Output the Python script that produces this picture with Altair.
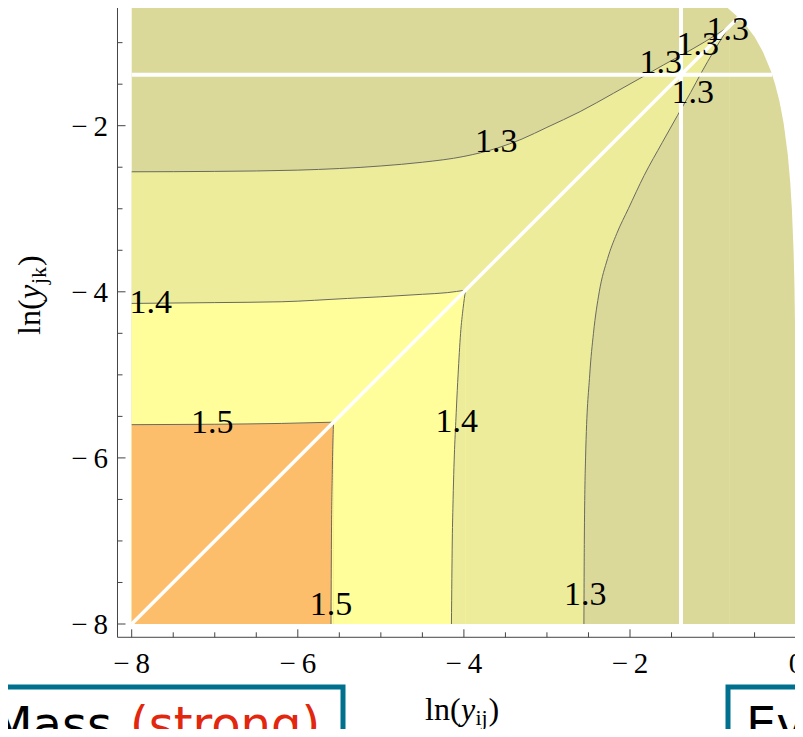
import altair as alt
import pandas as pd

# ---------------- data ----------------
# boundary of the physical region (top-right edge)
bnd_x = [-8.0, -1.0, -0.85, -0.7, -0.6, -0.5, -0.4, -0.3, -0.25, -0.2, -0.15, -0.1, -0.07, -0.05, -0.03, -0.02, -0.01, -0.004, 0.0]
bnd_y = [-0.3, -0.46, -0.56, -0.69, -0.80, -0.93, -1.11, -1.35, -1.51, -1.71, -1.97, -2.35, -2.69, -3.02, -3.52, -3.92, -4.61, -5.5, -8.0]

# contour 1.3 (upper branch, and right branch)
c13_h_x = [-8, -7, -6, -5, -4.5, -4.0, -3.6, -3.3, -3.0, -2.6, -2.2, -1.88, -1.6, -1.36, -1.1, -0.8]
c13_h_y = [-2.555, -2.55, -2.535, -2.485, -2.44, -2.37, -2.27, -2.16, -2.02, -1.83, -1.61, -1.43, -1.27, -1.14, -0.99, -0.80]
c13_v_x = [-2.555, -2.55, -2.535, -2.485, -2.44, -2.37, -2.27, -2.16, -2.02, -1.83, -1.61, -1.43, -1.27, -1.14, -0.99, -0.80]
c13_v_y = [-8, -7, -6, -5, -4.5, -4.0, -3.6, -3.3, -3.0, -2.6, -2.2, -1.88, -1.6, -1.36, -1.1, -0.8]

# contour 1.4
c14_h_x = [-8, -7, -6.2, -5.4, -5.0, -4.5, -4.2, -3.98]
c14_h_y = [-4.14, -4.13, -4.12, -4.08, -4.06, -4.03, -4.01, -3.98]
c14_v_x = [-4.15, -4.14, -4.13, -4.09, -4.07, -4.04, -4.01, -3.98]
c14_v_y = [-8, -7, -6.5, -5.4, -5.0, -4.5, -4.2, -3.98]

# contour 1.5
c15_h_x = [-8, -7, -6.2, -5.57]
c15_h_y = [-5.60, -5.595, -5.585, -5.57]
c15_v_x = [-5.60, -5.595, -5.585, -5.57]
c15_v_y = [-8, -7, -6.2, -5.57]

# white seams
seam_value = -1.386
diag_end = -0.693

# contour labels
lab_text = ["1.5", "1.5", "1.4", "1.4", "1.3", "1.3", "1.3", "1.3", "1.3", "1.3"]
lab_x = [-7.03, -5.60, -7.77, -4.085, -3.61, -2.54, -1.63, -1.185, -0.824, -1.244]
lab_y = [-5.70, -7.89, -4.255, -5.688, -2.317, -7.771, -1.361, -1.145, -0.964, -1.727]

# ticks
xtick_major = [-8, -6, -4, -2, 0]
xtick_labels = ["\u2212\u20098", "\u2212\u20096", "\u2212\u20094", "\u2212\u20092", "0"]
xtick_minor = [-7.5, -7, -6.5, -5.5, -5, -4.5, -3.5, -3, -2.5, -1.5, -1, -0.5]
ytick_major = [-8, -6, -4, -2]
ytick_labels = ["\u2212\u20098", "\u2212\u20096", "\u2212\u20094", "\u2212\u20092"]
ytick_minor = [-7.5, -7, -6.5, -5.5, -5, -4.5, -3.5, -3, -2.5, -1.5, -1, -0.5]

# ---------------- styling ----------------
DARK = "#DAD99A"
LIGHT = "#EDEC9B"
YELLOW = "#FFFE9B"
ORANGE = "#FDBE6B"
CLINE = "#6A6A60"
FRAME = "#444444"
TEAL = "#00708F"
RED = "#E3260E"
SERIF = "Liberation Serif"
SANS = "DejaVu Sans"

W, H = 787, 721
K = 83.05
xs = alt.Scale(domain=[-8 - 123.7 / K, -8 + (W - 123.7) / K], nice=False, zero=False)
ys = alt.Scale(domain=[-8 - (H - 616) / K, -8 + 616 / K], nice=False, zero=False)


def X(f):
    return alt.X(f, type="quantitative", scale=xs, axis=None)


def Y(f):
    return alt.Y(f, type="quantitative", scale=ys, axis=None)


def area_layer(xv, yv, color, interp="monotone"):
    df = pd.DataFrame({"x": xv, "y": yv, "base": -8.0})
    return alt.Chart(df).mark_area(color=color, clip=True, interpolate=interp, opacity=1).encode(
        X("x"), Y("y"), y2="base")


def line_layer(xv, yv, color=CLINE, width=1.0):
    df = pd.DataFrame({"x": xv, "y": yv, "i": list(range(len(xv)))})
    return alt.Chart(df).mark_line(color=color, strokeWidth=width, clip=True, interpolate="monotone").encode(
        X("x"), Y("y"), order="i:Q")


one = pd.DataFrame({"a": [0]})

layers = []
# filled bands (painter's order)
layers.append(area_layer(bnd_x, bnd_y, DARK, "linear"))
layers.append(area_layer(c13_h_x, c13_h_y, LIGHT))
layers.append(area_layer(c13_v_x, c13_v_y, DARK))
layers.append(area_layer(c14_h_x, c14_h_y, YELLOW))
layers.append(area_layer(c14_v_x, c14_v_y, LIGHT))
layers.append(area_layer(c15_h_x, c15_h_y, ORANGE))
layers.append(area_layer(c15_v_x, c15_v_y, YELLOW))

# contour lines
for cx, cy in [(c13_h_x, c13_h_y), (c13_v_x, c13_v_y), (c14_h_x, c14_h_y), (c14_v_x, c14_v_y),
               (c15_h_x, c15_h_y), (c15_v_x, c15_v_y)]:
    layers.append(line_layer(cx, cy))

# white seams
hseam = pd.DataFrame({"x": [-8.0], "x2": [-0.29], "y": [seam_value]})
layers.append(alt.Chart(hseam).mark_rule(color="white", strokeWidth=4, clip=True).encode(X("x"), x2="x2", y=Y("y")))
vseam = pd.DataFrame({"x": [seam_value], "y": [-8.0], "y2": [-0.3]})
layers.append(alt.Chart(vseam).mark_rule(color="white", strokeWidth=4, clip=True).encode(X("x"), Y("y"), y2="y2"))
diag = pd.DataFrame({"x": [-8.0, diag_end], "y": [-8.0, diag_end]})
layers.append(alt.Chart(diag).mark_line(color="white", strokeWidth=3.5, clip=True).encode(X("x"), Y("y")))

# contour labels
labs = pd.DataFrame({"x": lab_x, "y": lab_y, "t": lab_text})
layers.append(alt.Chart(labs).mark_text(font=SERIF, fontSize=34, align="center", baseline="alphabetic",
                                        color="black").encode(X("x"), Y("y"), text="t"))

# frame
lf = pd.DataFrame({"x": [-8.171], "y": [-8.160], "y2": [-0.3]})
layers.append(alt.Chart(lf).mark_rule(color=FRAME, strokeWidth=1).encode(X("x"), Y("y"), y2="y2"))
bf = pd.DataFrame({"x": [-8.171], "x2": [0.3], "y": [-8.160]})
layers.append(alt.Chart(bf).mark_rule(color=FRAME, strokeWidth=1).encode(X("x"), x2="x2", y=Y("y")))

bx = 629.3  # canvas y of bottom frame
lx = 109.5  # canvas x of left frame
dxm = pd.DataFrame({"x": xtick_major, "t": xtick_labels})
dxn = pd.DataFrame({"x": xtick_minor})
dym = pd.DataFrame({"y": ytick_major, "t": ytick_labels})
dyn = pd.DataFrame({"y": ytick_minor})
layers.append(alt.Chart(dxm).mark_rule(color=FRAME, strokeWidth=1).encode(X("x"), y=alt.value(bx), y2=alt.value(bx - 8)))
layers.append(alt.Chart(dxn).mark_rule(color=FRAME, strokeWidth=1).encode(X("x"), y=alt.value(bx), y2=alt.value(bx - 5)))
layers.append(alt.Chart(dym).mark_rule(color=FRAME, strokeWidth=1).encode(Y("y"), x=alt.value(lx), x2=alt.value(lx + 8)))
layers.append(alt.Chart(dyn).mark_rule(color=FRAME, strokeWidth=1, clip=True).encode(Y("y"), x=alt.value(lx), x2=alt.value(lx + 5)))

layers.append(alt.Chart(dxm).mark_text(font=SERIF, fontSize=29, align="center", baseline="alphabetic",
                                       color="black").encode(X("x"), y=alt.value(665), text="t"))
layers.append(alt.Chart(dym).mark_text(font=SERIF, fontSize=29, align="right", baseline="alphabetic", dy=10,
                                       color="black").encode(Y("y"), x=alt.value(100), text="t"))

# axis titles (pieces for italic variable and subscript)
FS = 32
SUB = 22


def piece(txt, x, y, size, style="normal", angle=0, align="left"):
    return alt.Chart(one).mark_text(text=txt, font=SERIF, fontSize=size, fontStyle=style, angle=angle,
                                    align=align, baseline="alphabetic", color="black").encode(
        x=alt.value(x), y=alt.value(y))


x0, yb = 417, 712
layers.append(piece("ln(", x0, yb, FS))
layers.append(piece("y", x0 + 36, yb, FS, "italic"))
layers.append(piece("ij", x0 + 50.5, yb + 5, SUB))
layers.append(piece(")", x0 + 63.5, yb, FS))

ty0, tx = 327, 32
layers.append(piece("ln(", tx, ty0, FS, angle=270))
layers.append(piece("y", tx, ty0 - 36, FS, "italic", angle=270))
layers.append(piece("jk", tx + 6, ty0 - 51, SUB, angle=270))
layers.append(piece(")", tx, ty0 - 69, FS, angle=270))

# slide boxes
layers.append(alt.Chart(one).mark_rect(fill="white", stroke=TEAL, strokeWidth=5).encode(
    x=alt.value(-20), x2=alt.value(335), y=alt.value(679), y2=alt.value(780)))
layers.append(alt.Chart(one).mark_rect(fill="white", stroke=TEAL, strokeWidth=5).encode(
    x=alt.value(720), x2=alt.value(900), y=alt.value(679), y2=alt.value(780)))
layers.append(alt.Chart(one).mark_text(text="Mass", font=SANS, fontSize=48, align="right", baseline="alphabetic",
                                       color="black").encode(x=alt.value(104), y=alt.value(733)))
layers.append(alt.Chart(one).mark_text(text="(strong)", font=SANS, fontSize=48, align="left", baseline="alphabetic",
                                       color=RED).encode(x=alt.value(122), y=alt.value(733)))
layers.append(alt.Chart(one).mark_text(text="Ev", font=SANS, fontSize=48, align="left", baseline="alphabetic",
                                       color="black").encode(x=alt.value(738), y=alt.value(733)))

chart = alt.layer(*layers).properties(
    width=W, height=H, padding=0, autosize=alt.AutoSizeParams(type="none")
).configure_view(stroke=None)

chart.save("out.html", embed_options={"renderer": "svg", "actions": False})
